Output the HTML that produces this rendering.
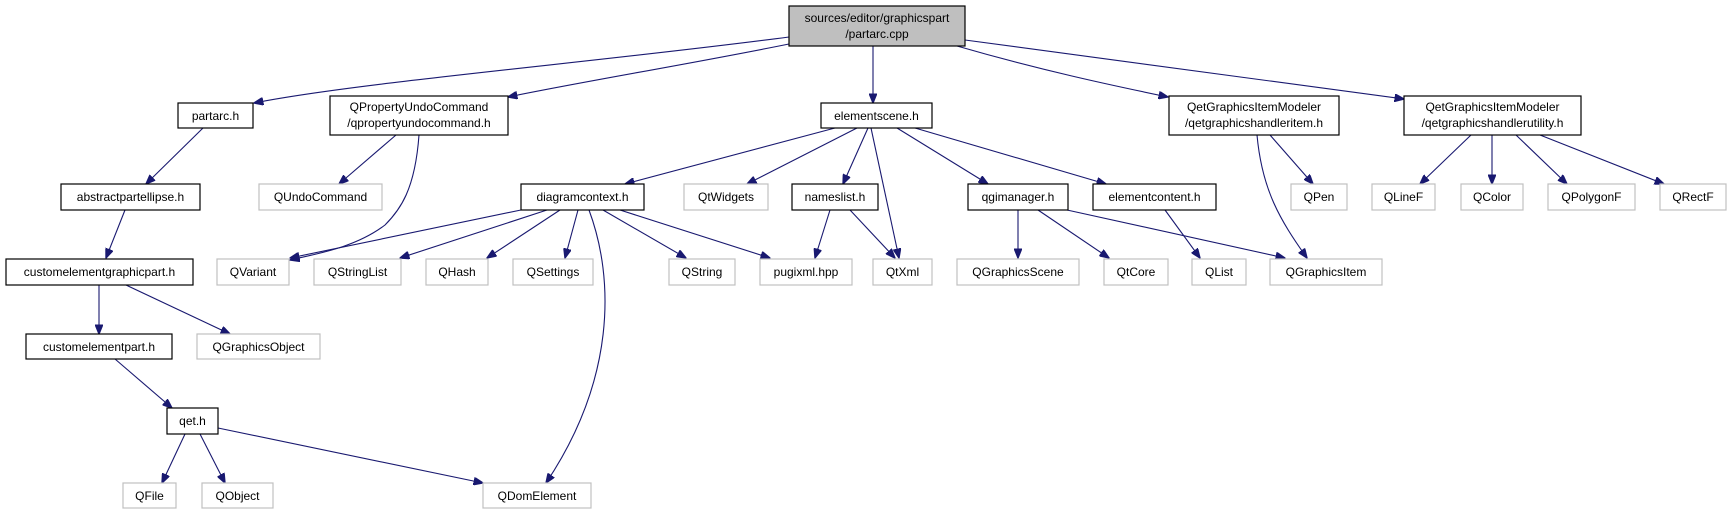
<!DOCTYPE html>
<html><head><meta charset="utf-8"><style>
html,body{margin:0;padding:0;background:#fff}
svg{display:block}
text{font-family:"Liberation Sans",Arial,sans-serif;font-size:12px;text-anchor:middle}
.b rect{fill:#fff;stroke:#000;stroke-width:1.2}
.g rect{fill:#fff;stroke:#c0c0c0;stroke-width:1.2}
.g text{fill:#000}
path{fill:none;stroke:#191970;stroke-width:1.1}
</style></head><body>
<svg width="1728" height="515" viewBox="0 0 1728 515" xmlns="http://www.w3.org/2000/svg">
<defs><marker id="a" markerWidth="10" markerHeight="8" refX="9.5" refY="4" orient="auto" markerUnits="userSpaceOnUse"><path d="M0,0 L10,4 L0,8 Z" style="fill:#191970;stroke:#191970;stroke-width:1"/></marker></defs>
<g id="edges">
<path marker-end="url(#a)" d="M789,37 C600,62 360,82 254,103"/>
<path marker-end="url(#a)" d="M789,44 C690,64 580,82 508,97"/>
<path marker-end="url(#a)" d="M873,46 L873,103"/>
<path marker-end="url(#a)" d="M957,46 C1040,70 1110,85 1168,97"/>
<path marker-end="url(#a)" d="M965,40 C1150,65 1320,88 1404,99"/>
<path marker-end="url(#a)" d="M203,128 L146,184"/>
<path marker-end="url(#a)" d="M396,135 L339,184"/>
<path marker-end="url(#a)" d="M419,135 C415,190 400,210 385,225 C355,248 315,254 290,260"/>
<path marker-end="url(#a)" d="M125,210 L106,258"/>
<path marker-end="url(#a)" d="M99,285 L99,334"/>
<path marker-end="url(#a)" d="M126,285 L230,334"/>
<path marker-end="url(#a)" d="M115,359 L172,408"/>
<path marker-end="url(#a)" d="M185,434 L162,483"/>
<path marker-end="url(#a)" d="M200,434 L225,483"/>
<path marker-end="url(#a)" d="M218,428 L483,483"/>
<path marker-end="url(#a)" d="M835,128 L625,184"/>
<path marker-end="url(#a)" d="M857,128 L747,184"/>
<path marker-end="url(#a)" d="M868,128 L843,184"/>
<path marker-end="url(#a)" d="M871,128 L899,258"/>
<path marker-end="url(#a)" d="M897,128 L988,184"/>
<path marker-end="url(#a)" d="M915,128 L1106,184"/>
<path marker-end="url(#a)" d="M521,210 L290,258"/>
<path marker-end="url(#a)" d="M547,210 L400,258"/>
<path marker-end="url(#a)" d="M560,210 L487,258"/>
<path marker-end="url(#a)" d="M578,210 L565,258"/>
<path marker-end="url(#a)" d="M589,210 C615,280 615,380 546,483"/>
<path marker-end="url(#a)" d="M603,210 L686,258"/>
<path marker-end="url(#a)" d="M620,210 L770,258"/>
<path marker-end="url(#a)" d="M830,210 L815,258"/>
<path marker-end="url(#a)" d="M850,210 L895,258"/>
<path marker-end="url(#a)" d="M1018,210 L1018,258"/>
<path marker-end="url(#a)" d="M1038,210 L1109,258"/>
<path marker-end="url(#a)" d="M1067,210 L1285,258"/>
<path marker-end="url(#a)" d="M1165,210 L1200,258"/>
<path marker-end="url(#a)" d="M1257,135 C1262,190 1280,220 1307,258"/>
<path marker-end="url(#a)" d="M1270,135 L1313,184"/>
<path marker-end="url(#a)" d="M1471,135 L1420,184"/>
<path marker-end="url(#a)" d="M1492,135 L1492,184"/>
<path marker-end="url(#a)" d="M1516,135 L1567,184"/>
<path marker-end="url(#a)" d="M1540,135 L1664,184"/>
</g>
<g><rect x="789" y="6" width="176" height="40" fill="#bfbfbf" stroke="#000" stroke-width="1.2"/>
<text x="877" y="22">sources/editor/graphicspart</text><text x="877" y="38">/partarc.cpp</text></g>
<g class="b">
<rect x="178" y="103" width="75" height="25"/><text x="215.5" y="120">partarc.h</text>
<rect x="330" y="96" width="178" height="39"/><text x="419" y="111">QPropertyUndoCommand</text><text x="419" y="127">/qpropertyundocommand.h</text>
<rect x="821" y="103" width="111" height="25"/><text x="876.5" y="120">elementscene.h</text>
<rect x="1169" y="96" width="170" height="39"/><text x="1254" y="111">QetGraphicsItemModeler</text><text x="1254" y="127">/qetgraphicshandleritem.h</text>
<rect x="1404" y="96" width="177" height="39"/><text x="1492.5" y="111">QetGraphicsItemModeler</text><text x="1492.5" y="127">/qetgraphicshandlerutility.h</text>
<rect x="61" y="184" width="139" height="26"/><text x="130.5" y="201">abstractpartellipse.h</text>
<rect x="521" y="184" width="123" height="26"/><text x="582.5" y="201">diagramcontext.h</text>
<rect x="792" y="184" width="86" height="26"/><text x="835" y="201">nameslist.h</text>
<rect x="968" y="184" width="100" height="26"/><text x="1018" y="201">qgimanager.h</text>
<rect x="1093" y="184" width="123" height="26"/><text x="1154.5" y="201">elementcontent.h</text>
<rect x="6" y="259" width="187" height="26"/><text x="99.5" y="276">customelementgraphicpart.h</text>
<rect x="26" y="334" width="146" height="25"/><text x="99" y="351">customelementpart.h</text>
<rect x="167" y="408" width="51" height="26"/><text x="192.5" y="425">qet.h</text>
</g>
<g class="g">
<rect x="259" y="184" width="123" height="26"/><text x="320.5" y="201">QUndoCommand</text>
<rect x="684" y="184" width="84" height="26"/><text x="726" y="201">QtWidgets</text>
<rect x="1291" y="184" width="56" height="26"/><text x="1319" y="201">QPen</text>
<rect x="1372" y="184" width="63" height="26"/><text x="1403.5" y="201">QLineF</text>
<rect x="1461" y="184" width="62" height="26"/><text x="1492" y="201">QColor</text>
<rect x="1548" y="184" width="87" height="26"/><text x="1591.5" y="201">QPolygonF</text>
<rect x="1660" y="184" width="66" height="26"/><text x="1693" y="201">QRectF</text>
<rect x="217" y="259" width="72" height="26"/><text x="253" y="276">QVariant</text>
<rect x="314" y="259" width="87" height="26"/><text x="357.5" y="276">QStringList</text>
<rect x="426" y="259" width="62" height="26"/><text x="457" y="276">QHash</text>
<rect x="513" y="259" width="80" height="26"/><text x="553" y="276">QSettings</text>
<rect x="669" y="259" width="66" height="26"/><text x="702" y="276">QString</text>
<rect x="760" y="259" width="92" height="26"/><text x="806" y="276">pugixml.hpp</text>
<rect x="873" y="259" width="59" height="26"/><text x="902.5" y="276">QtXml</text>
<rect x="957" y="259" width="122" height="26"/><text x="1018" y="276">QGraphicsScene</text>
<rect x="1104" y="259" width="64" height="26"/><text x="1136" y="276">QtCore</text>
<rect x="1192" y="259" width="54" height="26"/><text x="1219" y="276">QList</text>
<rect x="1270" y="259" width="112" height="26"/><text x="1326" y="276">QGraphicsItem</text>
<rect x="197" y="334" width="123" height="25"/><text x="258.5" y="351">QGraphicsObject</text>
<rect x="123" y="483" width="53" height="25"/><text x="149.5" y="500">QFile</text>
<rect x="202" y="483" width="71" height="25"/><text x="237.5" y="500">QObject</text>
<rect x="483" y="483" width="108" height="25"/><text x="537" y="500">QDomElement</text>
</g>
</svg>
</body></html>
